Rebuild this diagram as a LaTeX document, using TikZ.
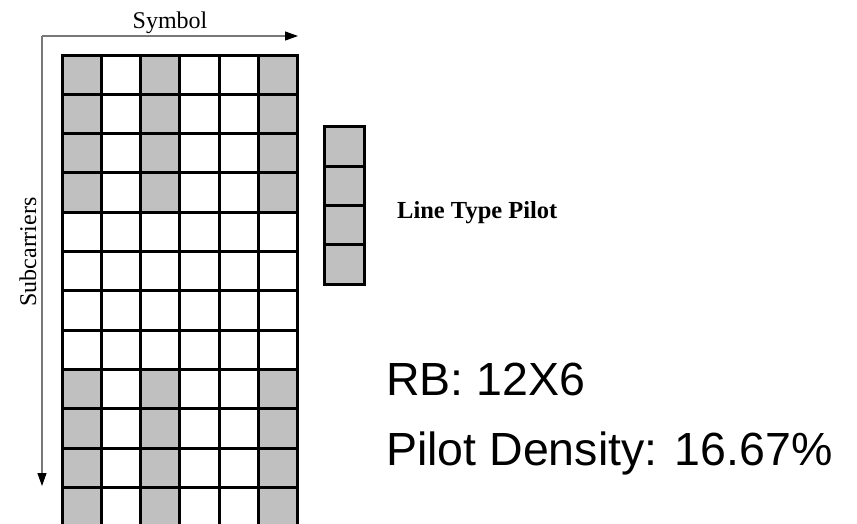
\documentclass[tikz,border=0pt]{standalone}
\usepackage{fontspec}
\setmainfont{Liberation Serif}
\newfontfamily\arialfont{Liberation Sans}
\usetikzlibrary{arrows.meta,positioning}
\definecolor{pilotgray}{RGB}{192,192,192}
\definecolor{axisgray}{RGB}{120,120,120}

\begin{document}
\begin{tikzpicture}[x=1pt, y=-1pt, font=\fontsize{24}{28}\selectfont,
      cell/.style={rectangle, minimum size=39.3pt, inner sep=0pt, outer sep=0pt},
      cellborder/.style={draw=black, line width=3pt, line join=miter},
      axis/.style={draw=axisgray, line width=1.2pt, -{Triangle[length=13pt, width=9pt, color=black]}},
      bigtext/.style={anchor=base west, inner sep=0pt, font=\arialfont\fontsize{46.5}{52}\selectfont}]
    \useasboundingbox (0,0) rectangle (857,523);
    % resource block: 12 subcarriers x 6 symbols
    \foreach \r in {0,...,11}
      \foreach \c in {0,...,5} {
        \pgfmathtruncatemacro\isp{((\c==0)||(\c==2)||(\c==5))&&((\r<4)||(\r>7))}
        \ifnum\isp=1 \def\cellfill{pilotgray}\else\def\cellfill{white}\fi
        \node[cell, fill=\cellfill] (c-\r-\c) at ({62+39.3*(\c+0.5)},{55+39.3*(\r+0.5)}) {};
      }
    \foreach \r in {0,...,11}
      \foreach \c in {0,...,5}
        \draw[cellborder] (c-\r-\c.north west) rectangle (c-\r-\c.south east);
    % legend column
    \foreach \k in {1,...,4}
      \node[cell, fill=pilotgray] (p\k) at (344.5,{127+39.25*(\k-0.5)}) {};
    \foreach \k in {1,...,4}
      \draw[cellborder] (p\k.north west) rectangle (p\k.south east);
    \node[anchor=base west, inner sep=0pt, font=\bfseries\fontsize{24.5}{28}\selectfont] (linetype) at (397,218) {Line Type Pilot};
    % axes
    \coordinate (origin) at (42,36);
    \coordinate (symend) at (298,36);
    \coordinate (subend) at (42,486);
    \draw[axis] (origin) -- (symend);
    \draw[axis] (origin) -- (subend);
    \node[anchor=base, inner sep=0pt] (symlbl) at (170,28) {Symbol};
    \node[anchor=base, inner sep=0pt, rotate=90] (sublbl) at (36,252) {Subcarriers};
    % block info
    \node[bigtext] (rbinfo) at (386,395) {RB: 12X6};
    \node[bigtext] (density) at (386,465) {Pilot Density: 16.67\%};
\end{tikzpicture}
\end{document}
